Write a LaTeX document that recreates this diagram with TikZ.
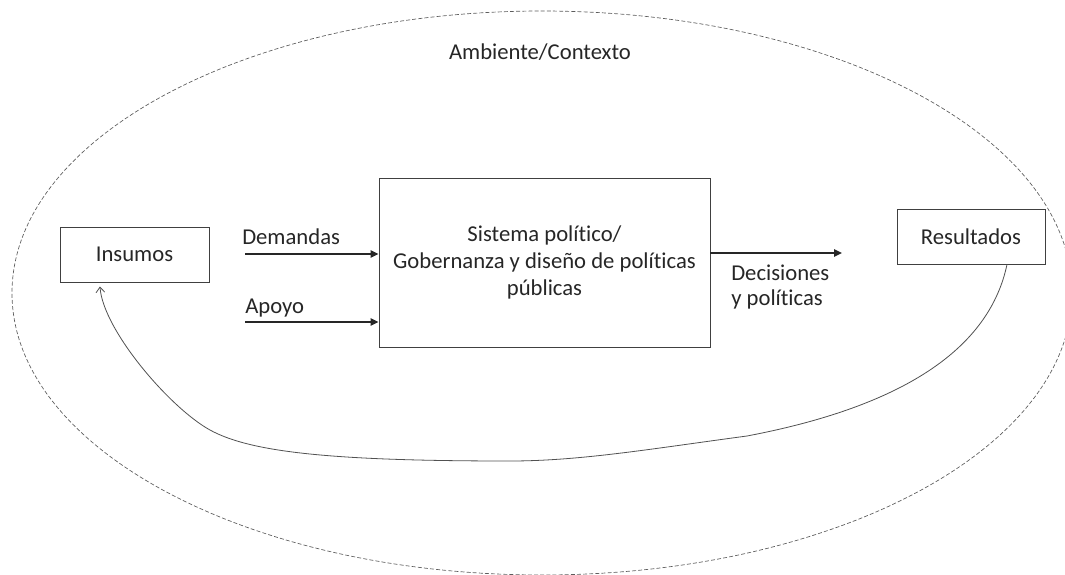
\documentclass[tikz,border=0pt]{standalone}
\usepackage{fontspec}
\setmainfont{Carlito}[Ligatures={NoCommon,NoContextual}]
\usetikzlibrary{arrows.meta,shapes.geometric}
\definecolor{txt}{HTML}{262626}
\definecolor{edge}{HTML}{404040}
\tikzset{
  lbl/.style={inner sep=0pt, text=txt, font=\fontsize{17}{20.5}\selectfont},
  boxnode/.style={draw=edge, line width=0.7pt, inner sep=2pt, align=center, text=txt,
                  font=\fontsize{17}{20.5}\selectfont},
  flow/.style={draw=txt, line width=1.3pt, -{Triangle[length=6pt,width=5.5pt]}},
  feedback/.style={draw=txt!80, line width=0.6pt, -{Straight Barb[length=4pt,width=6.5pt]}},
  envline/.style={draw=txt!75, line width=0.5pt, dash pattern=on 3pt off 1.6pt},
}
\begin{document}
\begin{tikzpicture}[x=0.75pt,y=-0.75pt]
\useasboundingbox (0,0) rectangle (1065,575);
% environment ellipse
\node[ellipse, envline, minimum width=795pt, minimum height=423pt, inner sep=0pt] (env) at (542,293) {};
\node[lbl] (amb) at (540,52) {Ambiente/Contexto};
% boxes
\node[boxnode, minimum width=111.75pt, minimum height=41.25pt] (ins) at (134.5,254.5) {Insumos};
\node[boxnode, minimum width=248.25pt, minimum height=126.75pt] (sys) at (544.5,262.5)
  {Sistema político/\\Gobernanza y diseño de políticas\\públicas};
\node[boxnode, minimum width=111pt, minimum height=41.25pt] (res) at (971,236.5) {Resultados};
% input arrows
\coordinate (dstart) at (245,254);
\coordinate (astart) at (245,322);
\draw[flow] (dstart) -- (dstart -| sys.west);
\draw[flow] (astart) -- (astart -| sys.west);
\node[lbl, anchor=base west] (dem) at (242,244) {Demandas};
\node[lbl, anchor=base west] (apo) at (245,313) {Apoyo};
% output arrow
\coordinate (dend) at (842,253);
\draw[flow] (dend -| sys.east) -- (dend);
\node[lbl, anchor=base west] (dec1) at (731,280) {Decisiones};
\node[lbl, anchor=base west] (dec2) at (731,305) {y políticas};
% feedback loop
\draw[feedback] ([xshift=27pt]res.south)
  .. controls (990,345) and (910,405) .. (747,436)
  .. controls (650,449) and (580,461) .. (510,461)
  .. controls (330,461) and (250,452) .. (210,430)
  .. controls (170,408) and (103,330) .. ([xshift=-25.9pt,yshift=-3pt]ins.south);
\end{tikzpicture}
\end{document}
